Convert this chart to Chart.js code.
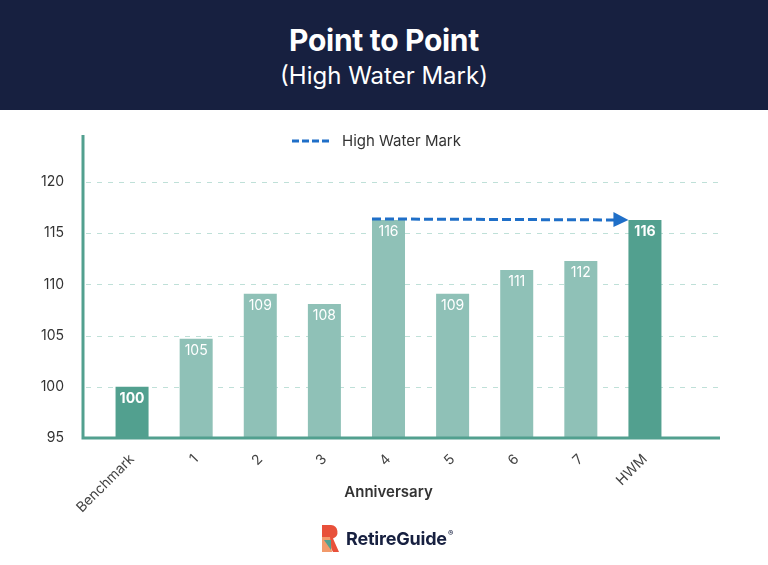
<!DOCTYPE html>
<html>
<head>
<meta charset="utf-8">
<script src="https://cdn.jsdelivr.net/npm/chart.js@4.4.1/dist/chart.umd.min.js"></script>
<style>
  html, body { margin: 0; padding: 0; background: #fff; }
  body { width: 768px; height: 565px; position: relative; overflow: hidden; font-family: Inter, "Noto Sans", sans-serif; }
  .header { position: absolute; left: 0; top: 0; width: 768px; height: 110px; background: #172040; color: #fff; text-align: center; }
  .header h1 { margin: 0; position: absolute; top: 22px; width: 100%; font-size: 30px; font-weight: 700; line-height: 36px; letter-spacing: -0.3px; }
  .header h2 { margin: 0; position: absolute; top: 60px; width: 100%; font-size: 24px; font-weight: 400; line-height: 32px; }
  .wrap { position: absolute; left: 0; top: 110px; width: 768px; height: 440px; }
  .logo { position: absolute; top: 525px; left: 322px; height: 27px; display: flex; align-items: center; z-index: 2; }
  .logo span { font-size: 18px; font-weight: 700; color: #172040; margin-left: 7px; letter-spacing: -0.2px; }
  .logo sup { font-size: 8px; font-weight: 700; color: #172040; position: relative; top: -6px; margin-left: 1px; }
</style>
</head>
<body>
<div class="header">
  <h1>Point to Point</h1>
  <h2>(High Water Mark)</h2>
</div>
<div class="wrap"><canvas id="hwmChart"></canvas></div>
<div class="logo">
  <svg width="17" height="27" viewBox="0 0 17 27">
    <path d="M0 0 H9 A7 7 0 0 1 11 13.5 L17 27 H11 L5 15 H0 Z" fill="#e8503a"/>
    <path d="M0 12 H8 L10 27 H0 Z" fill="#f29a6b"/>
    <path d="M2 15 H9 L9 25 Z" fill="#52a08f"/>
  </svg>
  <span>RetireGuide</span><sup>®</sup>
</div>
<script>
// chart data
const categories = ['Benchmark', '1', '2', '3', '4', '5', '6', '7', 'HWM'];
const values = [100, 104.7, 109.1, 108.1, 116.3, 109.1, 111.4, 112.3, 116.3];
const valueLabels = ['100', '105', '109', '108', '116', '109', '111', '112', '116'];
const yTicks = [95, 100, 105, 110, 115, 120];
const hwmLabel = 'High Water Mark';
const hwmValue = 116.4;
const hwmFrom = 4; // anniversary where the high water mark is reached
const hwmTo = 8;   // HWM column

const darkBars = [0, 8];
const lightColor = '#8fc1b7';
const darkColor = '#52a08f';

// dashed grid + axis lines that run past the bars
const axisPlugin = {
    id: 'axisLines',
    beforeDatasetsDraw(chart) {
        const {ctx, chartArea, scales: {y}} = chart;
        const left = chartArea.left - 17, right = chartArea.right + 43;
        ctx.save();
        ctx.strokeStyle = '#bfe0d8';
        ctx.lineWidth = 1;
        ctx.setLineDash([5, 6]);
        yTicks.forEach(v => {
            if (v === y.min) return;
            const py = Math.round(y.getPixelForValue(v)) + 0.5;
            ctx.beginPath();
            ctx.moveTo(left + 3, py);
            ctx.lineTo(right, py);
            ctx.stroke();
        });
        ctx.restore();
    },
    afterDatasetsDraw(chart) {
        const {ctx, chartArea, scales: {y}} = chart;
        const left = chartArea.left - 17, right = chartArea.right + 43;
        const base = y.getPixelForValue(y.min);
        ctx.save();
        ctx.strokeStyle = darkColor;
        ctx.lineWidth = 3;
        ctx.beginPath();
        ctx.moveTo(left, chartArea.top);
        ctx.lineTo(left, base);
        ctx.lineTo(right, base);
        ctx.stroke();

        // value labels inside bars
        const meta = chart.getDatasetMeta(0);
        ctx.fillStyle = '#fff';
        ctx.textAlign = 'center';
        ctx.textBaseline = 'middle';
        meta.data.forEach((bar, i) => {
            const bold = darkBars.includes(i);
            ctx.font = (bold ? '700 ' : '400 ') + '14px Inter, sans-serif';
            ctx.fillText(valueLabels[i], bar.x, bar.y + 12);
        });

        // high water mark arrow
        const b1 = meta.data[hwmFrom], b2 = meta.data[hwmTo];
        const x1 = b1.x - b1.width / 2, x2 = b2.x - b2.width / 2;
        const py = y.getPixelForValue(hwmValue);
        ctx.strokeStyle = '#1f6fc8';
        ctx.fillStyle = '#1f6fc8';
        ctx.lineWidth = 3;
        ctx.setLineDash([9, 4]);
        ctx.beginPath();
        ctx.moveTo(x1, py);
        ctx.lineTo(x2 - 14, py + 1);
        ctx.stroke();
        ctx.setLineDash([]);
        ctx.beginPath();
        ctx.moveTo(x2 - 15, py - 7);
        ctx.lineTo(x2, py + 1);
        ctx.lineTo(x2 - 15, py + 8);
        ctx.closePath();
        ctx.fill();

        // legend
        const ly = chartArea.top + 6;
        ctx.lineWidth = 3;
        ctx.setLineDash([7, 3]);
        ctx.beginPath();
        ctx.moveTo(292, ly);
        ctx.lineTo(330, ly);
        ctx.stroke();
        ctx.setLineDash([]);
        ctx.fillStyle = '#333';
        ctx.textAlign = 'left';
        ctx.font = '400 15px Inter, sans-serif';
        ctx.fillText(hwmLabel, 342, ly);
        ctx.restore();
    }
};

const ctx = document.getElementById('hwmChart').getContext('2d');
const chart = new Chart(ctx, {
    type: 'bar',
    data: {
        labels: categories,
        datasets: [{
            label: 'Value',
            data: values,
            backgroundColor: values.map((v, i) => darkBars.includes(i) ? darkColor : lightColor),
            borderWidth: 0,
            categoryPercentage: 1,
            barPercentage: 0.515
        }]
    },
    options: {
        responsive: true,
        maintainAspectRatio: false,
        animation: false,
        layout: { padding: { top: 25, left: 0, right: 91, bottom: 22 } },
        plugins: {
            legend: { display: false },
            tooltip: { enabled: false }
        },
        scales: {
            x: {
                grid: { display: false },
                border: { display: false },
                ticks: {
                    minRotation: 45,
                    maxRotation: 45,
                    padding: 5,
                    color: '#444',
                    font: { family: 'Inter', size: 14 }
                },
                title: {
                    display: true,
                    text: 'Anniversary',
                    color: '#333',
                    font: { family: 'Inter', size: 15, weight: '600' },
                    padding: { top: 4, bottom: 27 }
                },
                afterFit(scale) { scale.height = 90; scale.paddingLeft = 0; scale.paddingRight = 0; }
            },
            y: {
                min: 95,
                max: 124.6,
                grid: { display: false },
                border: { display: false },
                ticks: {
                    padding: 28,
                    color: '#333',
                    font: { family: 'Inter', size: 14 }
                },
                afterBuildTicks(scale) { scale.ticks = yTicks.map(v => ({ value: v })); },
                afterFit(scale) { scale.width = 100; scale.paddingTop = 0; scale.paddingBottom = 0; }
            }
        }
    },
    plugins: [axisPlugin]
});
</script>
</body>
</html>
